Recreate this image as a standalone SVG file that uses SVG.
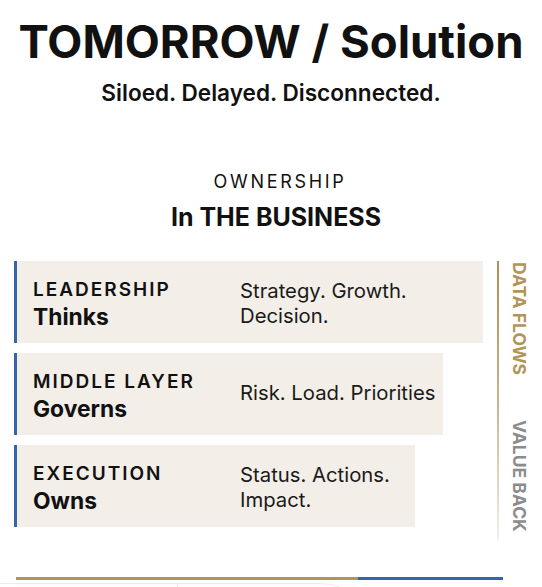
<svg xmlns="http://www.w3.org/2000/svg" width="542" height="587" viewBox="0 0 542 587">
  <defs>
    <linearGradient id="flowGrad" x1="0" y1="0" x2="0" y2="1">
      <stop offset="0" stop-color="#b08f55"/>
      <stop offset="0.5" stop-color="#c9b38a"/>
      <stop offset="1" stop-color="#f3eee6"/>
    </linearGradient>
    <style>
      text { font-family: "Inter", "Liberation Sans", sans-serif; fill: #111; }
      .title { font-size: 45.5px; font-weight: 700; }
      .subtitle { font-size: 22.6px; font-weight: 600; }
      .eyebrow { font-size: 18px; font-weight: 400; letter-spacing: 2.7px; }
      .heading { font-size: 25px; font-weight: 700; }
      .card { fill: #f3efe8; }
      .bar { fill: #3564aa; }
      .role { font-size: 19px; font-weight: 600; letter-spacing: 2px; }
      .verb { font-size: 22.8px; font-weight: 700; }
      .desc { font-size: 20.3px; font-weight: 400; fill: #1a1a1a; }
      .side { font-size: 17.5px; font-weight: 700; }
    </style>
  </defs>
  <rect width="542" height="587" fill="#ffffff"/>

  <g id="header">
    <text class="title" x="271" y="58" text-anchor="middle">TOMORROW / Solution</text>
    <text class="subtitle" x="271" y="101" text-anchor="middle">Siloed. Delayed. Disconnected.</text>
    <text class="eyebrow" x="280" y="188" text-anchor="middle">OWNERSHIP</text>
    <text class="heading" x="276" y="226" text-anchor="middle">In THE BUSINESS</text>
  </g>

  <g id="leadership">
    <rect class="card" x="14" y="261" width="469" height="82"/>
    <rect class="bar" x="14" y="261" width="3" height="82"/>
    <text class="role" x="33" y="296">LEADERSHIP</text>
    <text class="verb" x="33" y="325">Thinks</text>
    <text class="desc" x="240" y="298">Strategy. Growth.</text>
    <text class="desc" x="240" y="323">Decision.</text>
  </g>

  <g id="middle-layer">
    <rect class="card" x="14" y="353" width="429" height="82"/>
    <rect class="bar" x="14" y="353" width="3" height="82"/>
    <text class="role" x="33" y="388">MIDDLE LAYER</text>
    <text class="verb" x="33" y="417">Governs</text>
    <text class="desc" x="240" y="400">Risk. Load. Priorities</text>
  </g>

  <g id="execution">
    <rect class="card" x="14" y="445" width="401" height="82"/>
    <rect class="bar" x="14" y="445" width="3" height="82"/>
    <text class="role" x="33" y="480">EXECUTION</text>
    <text class="verb" x="33" y="509">Owns</text>
    <text class="desc" x="240" y="482">Status. Actions.</text>
    <text class="desc" x="240" y="507">Impact.</text>
  </g>

  <g id="connectors">
    <rect x="497" y="261" width="2" height="279" fill="url(#flowGrad)"/>
  </g>

  <g id="flow-labels">
    <text class="side" transform="translate(512.5,262) rotate(90)" style="fill:#b39458">DATA FLOWS</text>
    <text class="side" transform="translate(512.5,420) rotate(90)" style="fill:#8c8c8c">VALUE BACK</text>
  </g>

  <g id="footer">
    <rect x="16" y="577" width="342" height="3" fill="#b39458"/>
    <rect x="358" y="577" width="145" height="3" fill="#3564aa"/>
    <path d="M0 583.5 H320 Q332 583.5 340 587" fill="none" stroke="#ececec" stroke-width="1"/>
    <line x1="177.5" y1="584" x2="177.5" y2="587" stroke="#e6e6e6" stroke-width="1"/>
  </g>
</svg>
